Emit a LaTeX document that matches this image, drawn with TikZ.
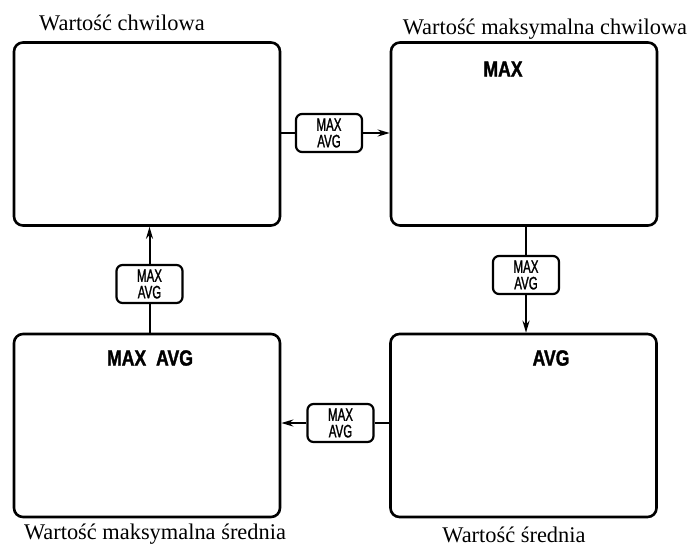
\documentclass[tikz,border=0pt]{standalone}
\usepackage{fontspec}
\setmainfont{Liberation Serif}
\newfontfamily\narrowsans[FakeStretch=0.64,FakeBold=1.2]{Liberation Sans}
\newfontfamily\boldsans[FakeStretch=0.8,FakeBold=1.5]{Liberation Sans}
\usepackage{tikz}
\usetikzlibrary{arrows.meta}
\tikzset{>={Stealth[length=12pt,width=7pt]}}
\tikzset{
  screen/.style={draw,line width=2.6pt,rounded corners=9pt,minimum width=266pt,minimum height=183pt,inner sep=0pt},
  keybox/.style={draw,line width=2.2pt,rounded corners=6pt,minimum width=66pt,minimum height=38pt,inner sep=0pt,
    align=center,font=\narrowsans\fontsize{18}{16.5}\selectfont},
  caption/.style={font=\fontsize{22.4}{26}\selectfont,inner sep=0pt},
  mode/.style={font=\boldsans\bfseries\fontsize{22}{26}\selectfont,inner sep=0pt},
  link/.style={line width=2pt}
}

\begin{document}
\begin{tikzpicture}[x=1pt,y=-1pt]
    \useasboundingbox (0,0) rectangle (692,547);

    \node[screen] (chw) at (147,134) {};
    \node[screen] (maxchw) at (524,134) {};
    \node[screen] (maxsr) at (147,425.5) {};
    \node[screen] (sr) at (523.5,425.5) {};

    \node[caption] (tchw) at (122,23) {Wartość chwilowa};
    \node[caption] (tmaxchw) at (545,29) {Wartość maksymalna chwilowa};
    \node[caption] (tmaxsr) at (155,534) {Wartość maksymalna średnia};
    \node[caption] (tsr) at (514,535) {Wartość średnia};

    \node[mode] (mmax) at (503,69) {MAX};
    \node[mode] (mmaxavg) at (150,358) {MAX\hspace{0.45em}AVG};
    \node[mode] (mavg) at (551,358) {AVG};

    \node[keybox] (ktop) at (329,133) {MAX\\AVG};
    \node[keybox] (kright) at (526,275) {MAX\\AVG};
    \node[keybox] (kbot) at (340.5,423) {MAX\\AVG};
    \node[keybox] (kleft) at (149.5,284) {MAX\\AVG};

    \draw[link] (chw.east |- ktop.west) -- (ktop.west);
    \draw[link,->] (ktop.east) -- (ktop.east -| maxchw.west);
    \draw[link] (maxchw.south -| kright.north) -- (kright.north);
    \draw[link,->] (kright.south) -- (kright.south |- sr.north);
    \draw[link] (sr.west |- kbot.east) -- (kbot.east);
    \draw[link,->] (kbot.west) -- (kbot.west -| maxsr.east);
    \draw[link] (maxsr.north -| kleft.south) -- (kleft.south);
    \draw[link,->] (kleft.north) -- (kleft.north |- chw.south);
\end{tikzpicture}
\end{document}
